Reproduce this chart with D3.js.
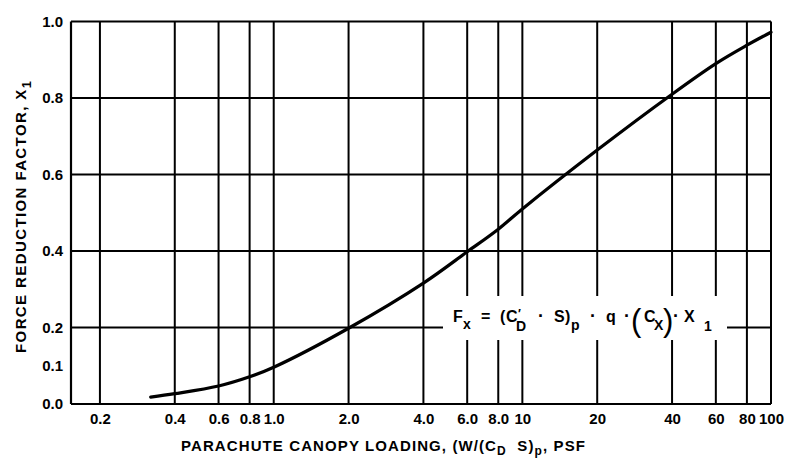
<!DOCTYPE html>
<html>
<head>
<meta charset="utf-8">
<script src="https://cdn.jsdelivr.net/npm/d3@7"></script>
<style>
  body { margin: 0; background: #fff; }
  text { font-family: "Liberation Sans", Arial, sans-serif; font-weight: bold; fill: #000; }
</style>
</head>
<body>
<div id="chart"></div>
<script>
    // canopy loading (psf) and force reduction factor
    var loading = [0.32, 0.4, 0.6, 0.8, 1.0, 2.0, 4.0, 6.0, 8.0, 10, 20, 40, 60, 80, 100];
    var factor  = [0.018, 0.027, 0.047, 0.071, 0.096, 0.198, 0.316, 0.398, 0.457, 0.51, 0.664, 0.81, 0.89, 0.938, 0.972];

    // grid / tick values
    var xGrid = [0.2, 0.4, 0.6, 0.8, 1, 2, 4, 6, 8, 10, 20, 40, 60, 80, 100];
    var xTickLabels = ["0.2", "0.4", "0.6", "0.8", "1.0", "2.0", "4.0", "6.0", "8.0", "10", "20", "40", "60", "80", "100"];
    var yGrid = [0.2, 0.4, 0.6, 0.8, 1.0];
    var yTicks = [0.0, 0.1, 0.2, 0.4, 0.6, 0.8, 1.0];

    var margin = {top: 21.5, right: 17, bottom: 54, left: 71},
        width = 788 - margin.left - margin.right,
        height = 458 - margin.top - margin.bottom;

    var svg = d3.select("#chart")
      .append("svg")
        .attr("width", 788)
        .attr("height", 458)
      .append("g")
        .attr("transform", "translate(" + margin.left + "," + margin.top + ")");

    var x = d3.scaleLog()
      .domain([0.153, 100])
      .range([0, width]);

    var y = d3.scaleLinear()
      .domain([0, 1])
      .range([height, 0]);

    // vertical grid lines
    svg.selectAll(".vgrid")
      .data(xGrid)
      .enter()
      .append("line")
        .attr("x1", function(d) { return x(d); })
        .attr("x2", function(d) { return x(d); })
        .attr("y1", y(0))
        .attr("y2", y(1))
        .attr("stroke", "#000")
        .attr("stroke-width", 2);

    // horizontal grid lines
    svg.selectAll(".hgrid")
      .data(yGrid)
      .enter()
      .append("line")
        .attr("x1", 0)
        .attr("x2", width)
        .attr("y1", function(d) { return y(d); })
        .attr("y2", function(d) { return y(d); })
        .attr("stroke", "#000")
        .attr("stroke-width", 2);

    // left and bottom border
    svg.append("line")
      .attr("x1", 0).attr("x2", 0)
      .attr("y1", y(0)).attr("y2", y(1))
      .attr("stroke", "#000").attr("stroke-width", 2.2);
    svg.append("line")
      .attr("x1", 0).attr("x2", width)
      .attr("y1", y(0)).attr("y2", y(0))
      .attr("stroke", "#000").attr("stroke-width", 2.2);

    // X axis labels
    var xAxis = d3.axisBottom(x)
      .tickValues(xGrid)
      .tickFormat(function(d, i) { return xTickLabels[i]; })
      .tickSize(0)
      .tickPadding(9);
    svg.append("g")
      .attr("transform", "translate(0," + height + ")")
      .call(xAxis)
      .call(function(g) { g.select(".domain").remove(); })
      .selectAll("text")
        .attr("font-size", 15)
        .attr("font-family", "Liberation Sans, Arial, sans-serif")
        .attr("font-weight", "bold");

    // Y axis labels
    var yAxis = d3.axisLeft(y)
      .tickValues(yTicks)
      .tickFormat(d3.format(".1f"))
      .tickSize(0)
      .tickPadding(8);
    svg.append("g")
      .call(yAxis)
      .call(function(g) { g.select(".domain").remove(); })
      .selectAll("text")
        .attr("font-size", 15)
        .attr("font-family", "Liberation Sans, Arial, sans-serif")
        .attr("font-weight", "bold");

    // white box under the formula
    svg.append("rect")
      .attr("x", 443 - margin.left)
      .attr("y", 296 - margin.top)
      .attr("width", 284)
      .attr("height", 44)
      .attr("fill", "#fff");

    // the curve
    var points = loading.map(function(d, i) { return [d, factor[i]]; });
    var line = d3.line()
      .x(function(d) { return x(d[0]); })
      .y(function(d) { return y(d[1]); })
      .curve(d3.curveCatmullRom.alpha(0.5));
    svg.append("path")
      .datum(points)
      .attr("d", line)
      .attr("fill", "none")
      .attr("stroke", "#000")
      .attr("stroke-width", 3.2)
      .attr("stroke-linecap", "round");

    // formula  F_x = (C'_D . S)_p . q . (C_X) . X_1
    var formula = [
      {t: "F", x: 453, y: 322, s: 16},
      {t: "x", x: 463, y: 329, s: 14},
      {t: "=", x: 481, y: 322, s: 16},
      {t: "(", x: 500, y: 322, s: 16},
      {t: "C", x: 506, y: 322, s: 16},
      {t: "\u2032", x: 518, y: 318, s: 12},
      {t: "D", x: 516, y: 331, s: 14},
      {t: "\u00b7", x: 538, y: 322, s: 18},
      {t: "S", x: 554, y: 322, s: 16},
      {t: ")", x: 565, y: 322, s: 16},
      {t: "p", x: 571, y: 330, s: 14},
      {t: "\u00b7", x: 590, y: 322, s: 18},
      {t: "q", x: 606, y: 322, s: 16},
      {t: "\u00b7", x: 624, y: 322, s: 18},
      {t: "(", x: 631, y: 331, s: 31},
      {t: "C", x: 644, y: 322, s: 16},
      {t: "X", x: 654, y: 330, s: 14},
      {t: ")", x: 663, y: 331, s: 31},
      {t: "\u00b7", x: 673, y: 322, s: 18},
      {t: "X", x: 684, y: 322, s: 16},
      {t: "1", x: 704, y: 331, s: 14}
    ];
    svg.selectAll(".formula")
      .data(formula)
      .enter()
      .append("text")
        .attr("x", function(d) { return d.x - margin.left; })
        .attr("y", function(d) { return d.y - margin.top; })
        .attr("font-size", function(d) { return d.s; })
        .style("font-weight", function(d) { return d.s > 20 ? "normal" : "bold"; })
        .text(function(d) { return d.t; });

    // x axis title
    var xt = svg.append("text")
      .attr("x", 181 - margin.left)
      .attr("y", 451 - margin.top)
      .attr("font-size", 15)
      .attr("letter-spacing", 1.1);
    xt.append("tspan").text("PARACHUTE CANOPY LOADING, (W/(C");
    xt.append("tspan").attr("dy", 4).attr("font-size", 12).text("D");
    xt.append("tspan").attr("dy", -4).text("\u00a0\u00a0S)");
    xt.append("tspan").attr("dy", 4).attr("font-size", 12).text("p");
    xt.append("tspan").attr("dy", -4).text(", PSF");

    // y axis title
    var yt = svg.append("text")
      .attr("transform", "translate(" + (26 - margin.left) + "," + (353 - margin.top) + ") rotate(-90)")
      .attr("font-size", 15)
      .attr("letter-spacing", 1.4);
    yt.append("tspan").text("FORCE REDUCTION FACTOR, X");
    yt.append("tspan").attr("dy", 5).attr("font-size", 13).text("1");
</script>
</body>
</html>
